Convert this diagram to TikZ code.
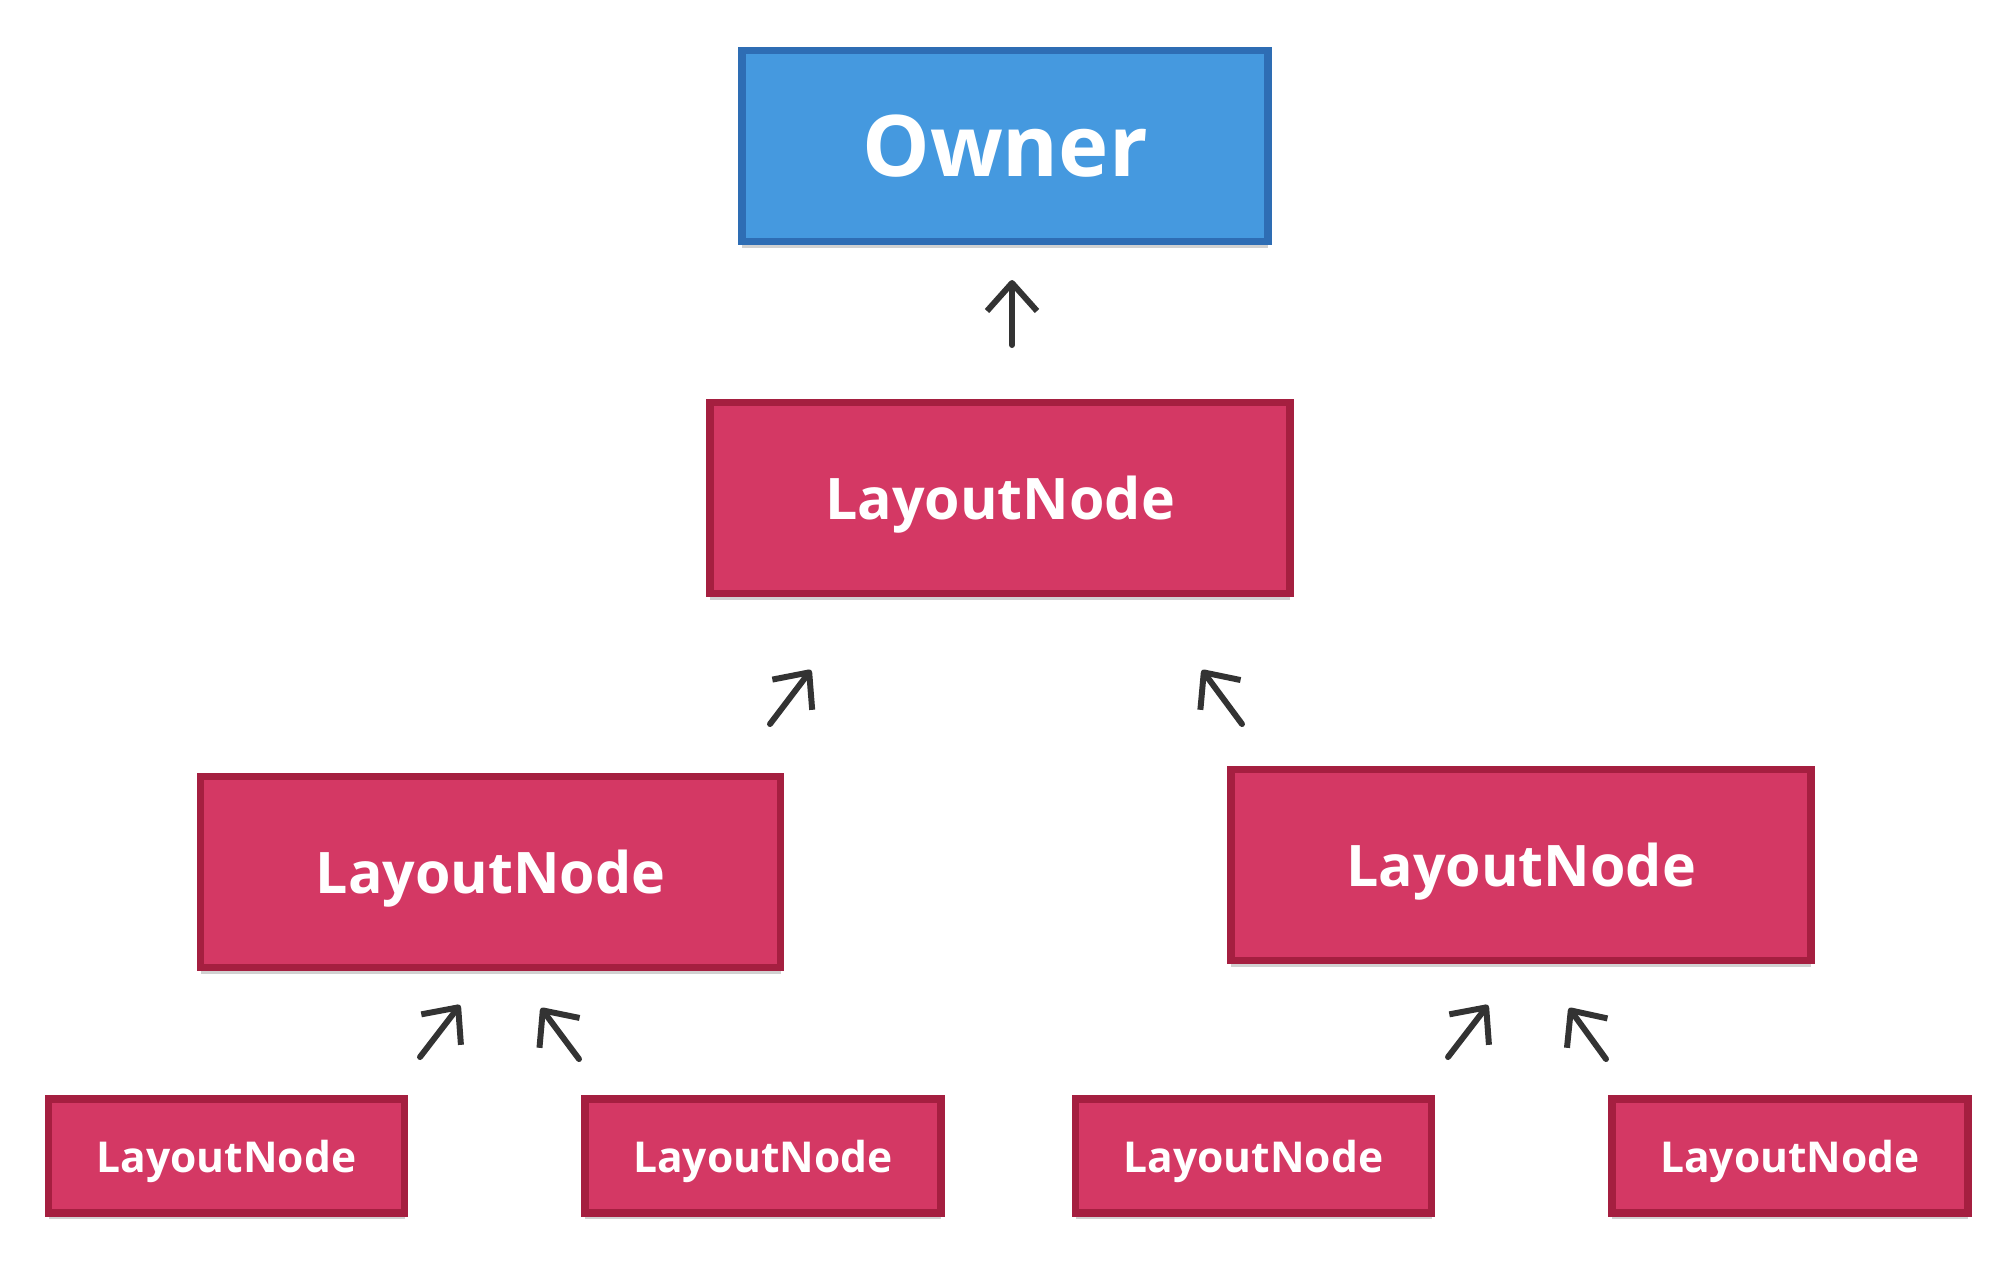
\documentclass[tikz,border=0pt]{standalone}
\usepackage{fontspec}
\setmainfont{Open Sans}
\usetikzlibrary{arrows.meta,shadows}

\definecolor{ownerfill}{HTML}{4599DF}
\definecolor{ownerline}{HTML}{2E6DB4}
\definecolor{lnfill}{HTML}{D43864}
\definecolor{lnline}{HTML}{A51F40}
\definecolor{arrowgray}{HTML}{333333}

\tikzset{
  box/.style={draw, line width=2.2pt, inner sep=0pt, text=white, text depth=0pt, font=\bfseries,
    drop shadow={shadow xshift=0pt, shadow yshift=-0.06cm, opacity=0.18, fill=black}},
  ownerbox/.style={box, fill=ownerfill, draw=ownerline, minimum width=5.26cm, minimum height=1.91cm, font=\fontsize{24.2}{28}\selectfont\bfseries},
  bigbox/.style={box, fill=lnfill, draw=lnline, minimum width=5.80cm, minimum height=1.91cm, font=\fontsize{16.3}{20}\selectfont\bfseries},
  smallbox/.style={box, fill=lnfill, draw=lnline, minimum width=3.56cm, minimum height=1.14cm, font=\fontsize{12.1}{15}\selectfont\bfseries},
  up/.style={draw=arrowgray, line width=1.7pt, line cap=round, -{Straight Barb[length=0.28cm, width=0.5cm, line join=round]}}
}

\begin{document}
\begin{tikzpicture}
    \useasboundingbox (0,0) rectangle (20.16,-12.6);

    \node[ownerbox] (owner) at (10.05,-1.46) {Owner};
    \node[bigbox] (root) at (10.00,-4.98) {LayoutNode};
    \node[bigbox] (left) at (4.905,-8.72) {LayoutNode};
    \node[bigbox] (right) at (15.21,-8.65) {LayoutNode};

    \node[smallbox] (ll) at (2.265,-11.56) {LayoutNode};
    \node[smallbox] (lr) at (7.63,-11.56) {LayoutNode};
    \node[smallbox] (rl) at (12.535,-11.56) {LayoutNode};
    \node[smallbox] (rr) at (17.90,-11.56) {LayoutNode};

    % floating arrows pointing to the parent
    \coordinate (o-from) at (10.12,-3.45);
    \coordinate (o-to) at (10.12,-2.80);
    \coordinate (rl-from) at (7.70,-7.24);
    \coordinate (rl-to) at (8.11,-6.70);
    \coordinate (rr-from) at (12.42,-7.24);
    \coordinate (rr-to) at (12.02,-6.70);
    \coordinate (ll-from) at (4.20,-10.57);
    \coordinate (ll-to) at (4.60,-10.05);
    \coordinate (lr-from) at (5.79,-10.59);
    \coordinate (lr-to) at (5.41,-10.08);
    \coordinate (rll-from) at (14.48,-10.57);
    \coordinate (rll-to) at (14.88,-10.05);
    \coordinate (rlr-from) at (16.06,-10.59);
    \coordinate (rlr-to) at (15.69,-10.08);

    \draw[up] (o-from) -- (o-to);
    \draw[up] (rl-from) -- (rl-to);
    \draw[up] (rr-from) -- (rr-to);
    \draw[up] (ll-from) -- (ll-to);
    \draw[up] (lr-from) -- (lr-to);
    \draw[up] (rll-from) -- (rll-to);
    \draw[up] (rlr-from) -- (rlr-to);
\end{tikzpicture}
\end{document}
